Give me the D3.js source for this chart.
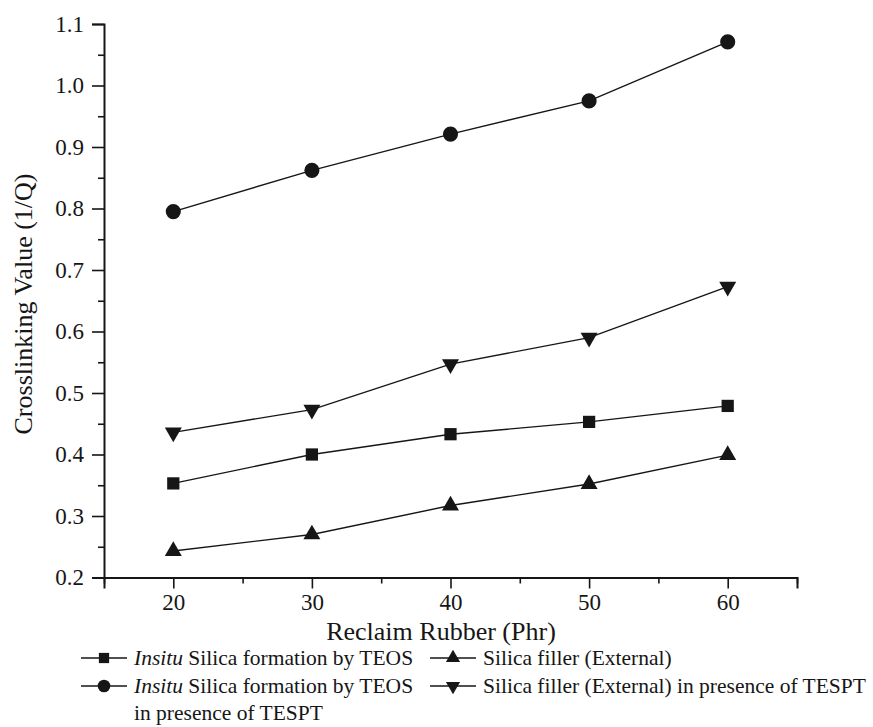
<!DOCTYPE html>
<html>
<head>
<meta charset="utf-8">
<script src="https://cdn.jsdelivr.net/npm/d3@7"></script>
</head>
<body style="margin:0; background:#fff">
<svg id="chart" width="873" height="727"></svg>
<script>
// Reclaim rubber loading (phr)
const reclaimPhr = [20, 30, 40, 50, 60];

// Crosslinking value (1/Q) for each system
const insituTeos        = [0.353, 0.400, 0.433, 0.453, 0.479];
const insituTeosTespt   = [0.795, 0.862, 0.921, 0.975, 1.071];
const silicaExternal    = [0.243, 0.270, 0.317, 0.352, 0.399];
const silicaExtTespt    = [0.436, 0.473, 0.547, 0.590, 0.673];

const xMajorTicks = [20, 30, 40, 50, 60];
const xMinorTicks = [15, 25, 35, 45, 55, 65];
const yMajorTicks = [0.2, 0.3, 0.4, 0.5, 0.6, 0.7, 0.8, 0.9, 1.0, 1.1];
const yMinorTicks = [0.25, 0.35, 0.45, 0.55, 0.65, 0.75, 0.85, 0.95, 1.05];

const FONT = '"Liberation Serif"';
const svg = d3.select("#chart");
const ink = "#161616";

const x = d3.scaleLinear().domain([15, 65]).range([104, 797]);
const y = d3.scaleLinear().domain([0.2, 1.1]).range([577.5, 24]);

// Axes: major ticks with labels, minor ticks without
const xAxis = d3.axisBottom(x).tickValues(xMajorTicks).tickSize(11).tickPadding(5).tickFormat(d3.format("d"));
const xMinor = d3.axisBottom(x).tickValues(xMinorTicks).tickSize(6).tickFormat("");
const yAxis = d3.axisLeft(y).tickValues(yMajorTicks).tickSize(12).tickPadding(8).tickFormat(d3.format(".1f"));
const yMinor = d3.axisLeft(y).tickValues(yMinorTicks).tickSize(6).tickFormat("");

function styleAxis(g) {
  g.select(".domain").attr("stroke", ink).attr("stroke-width", 2);
  g.selectAll(".tick line").attr("stroke", ink).attr("stroke-width", 1.6);
  g.selectAll(".tick text")
    .attr("fill", ink)
    .style("font-family", FONT)
    .style("font-size", "23px");
}

const gx = svg.append("g").attr("transform", `translate(0,${y(0.2)})`).call(xAxis);
styleAxis(gx);
const gxm = svg.append("g").attr("transform", `translate(0,${y(0.2)})`).call(xMinor);
gxm.select(".domain").remove();
gxm.selectAll(".tick line").attr("stroke", ink).attr("stroke-width", 1.6);

const gy = svg.append("g").attr("transform", `translate(${x(15)},0)`).call(yAxis);
styleAxis(gy);
const gym = svg.append("g").attr("transform", `translate(${x(15)},0)`).call(yMinor);
gym.select(".domain").remove();
gym.selectAll(".tick line").attr("stroke", ink).attr("stroke-width", 1.6);

// Axis titles
svg.append("text")
  .attr("x", 441).attr("y", 640)
  .attr("text-anchor", "middle")
  .attr("fill", ink)
  .style("font-family", FONT)
  .style("font-size", "26px")
  .text("Reclaim Rubber (Phr)");

svg.append("text")
  .attr("transform", "translate(32,304) rotate(-90)")
  .attr("text-anchor", "middle")
  .attr("fill", ink)
  .style("font-family", FONT)
  .style("font-size", "26px")
  .text("Crosslinking Value (1/Q)");

// Series: values, marker shape, marker size
const series = [
  { values: insituTeos,      symbol: d3.symbolSquare,   size: 150, rotate: 0 },
  { values: insituTeosTespt, symbol: d3.symbolCircle,   size: 180, rotate: 0 },
  { values: silicaExternal,  symbol: d3.symbolTriangle, size: 125, rotate: 0 },
  { values: silicaExtTespt,  symbol: d3.symbolTriangle, size: 125, rotate: 180 }
];

const line = d3.line().x((d, i) => x(reclaimPhr[i])).y(d => y(d));

series.forEach(s => {
  svg.append("path")
    .datum(s.values)
    .attr("d", line)
    .attr("fill", "none")
    .attr("stroke", ink)
    .attr("stroke-width", 1.4);

  svg.append("g").selectAll("path")
    .data(s.values)
    .join("path")
    .attr("d", d3.symbol().type(s.symbol).size(s.size))
    .attr("transform", (d, i) => `translate(${x(reclaimPhr[i])},${y(d)}) rotate(${s.rotate})`)
    .attr("fill", ink);
});

// Legend: two columns, with the long first-column label wrapping to a third row
const legendItems = [
  { s: series[0], lx: 81,  ly: 658, lines: [[["Insitu", true], [" Silica formation by TEOS", false]]] },
  { s: series[2], lx: 430, ly: 658, lines: [[["Silica filler (External)", false]]] },
  { s: series[1], lx: 81,  ly: 686, lines: [[["Insitu", true], [" Silica formation by TEOS", false]], [["in presence of TESPT", false]]] },
  { s: series[3], lx: 430, ly: 686, lines: [[["Silica filler (External) in presence of TESPT", false]]] }
];

legendItems.forEach(item => {
  const g = svg.append("g");
  g.append("line")
    .attr("x1", item.lx).attr("x2", item.lx + 46)
    .attr("y1", item.ly).attr("y2", item.ly)
    .attr("stroke", ink).attr("stroke-width", 1.4);
  g.append("path")
    .attr("d", d3.symbol().type(item.s.symbol).size(item.s.size * 0.7))
    .attr("transform", `translate(${item.lx + 23},${item.ly}) rotate(${item.s.rotate})`)
    .attr("fill", ink);
  item.lines.forEach((parts, li) => {
    const t = g.append("text")
      .attr("x", item.lx + 53)
      .attr("y", item.ly + 7 + li * 27)
      .attr("fill", ink)
      .style("font-family", FONT)
      .style("font-size", "21.5px");
    parts.forEach(([txt, italic]) => {
      t.append("tspan").style("font-style", italic ? "italic" : "normal").text(txt);
    });
  });
});
</script>
</body>
</html>
